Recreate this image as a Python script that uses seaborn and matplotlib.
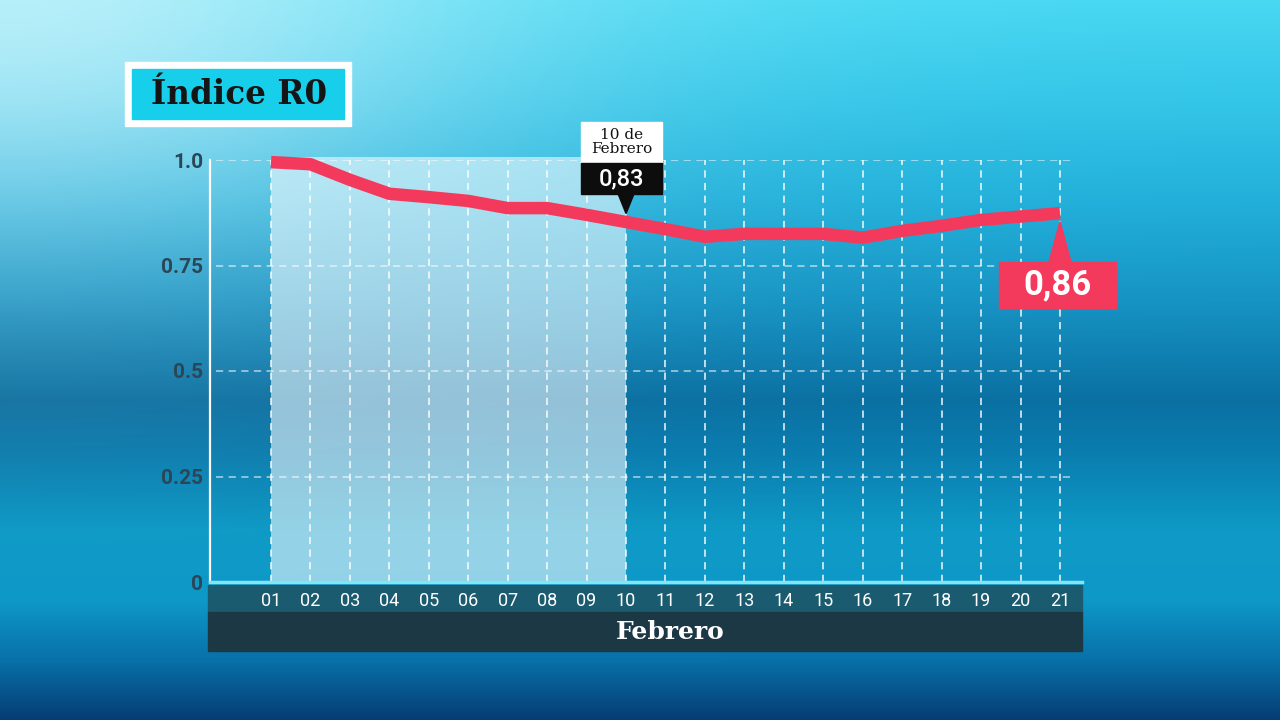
import numpy as np
import pandas as pd
import matplotlib
matplotlib.use("Agg")
import matplotlib.pyplot as plt
from matplotlib.patches import Rectangle, Polygon
import seaborn as sns

# Data (Índice R0, February days)
days = list(range(1, 22))
day_labels = [f"{d:02d}" for d in days]
r0_values = [0.995, 0.990, 0.953, 0.920, 0.912, 0.903, 0.886, 0.886, 0.870, 0.853,
             0.836, 0.818, 0.825, 0.825, 0.825, 0.816, 0.832, 0.844, 0.858, 0.866, 0.874]
y_ticks = [0, 0.25, 0.5, 0.75, 1.0]
y_tick_labels = ["0", "0.25", "0.5", "0.75", "1.0"]
highlight_day = 10
highlight_label = "0,83"
last_label = "0,86"
month = "Febrero"
title = "Índice R0"

LINE_RED = "#f43a5c"

sns.set_theme(style="white")
plt.rcParams["font.family"] = ["Roboto", "DejaVu Sans"]

fig = plt.figure(figsize=(12.8, 7.2), dpi=100)

# background gradient
H, W = 720, 1280
yy = np.arange(H)
stops_y = [0, 100, 200, 300, 400, 450, 530, 600, 660, 720]
stops_c = np.array([
    [0x48, 0xd8, 0xf2], [0x34, 0xc6, 0xe8], [0x22, 0xb0, 0xda], [0x16, 0x94, 0xc4],
    [0x0a, 0x70, 0xa2], [0x0a, 0x7c, 0xae], [0x0e, 0x9a, 0xc6], [0x0e, 0x98, 0xc8],
    [0x08, 0x70, 0xa8], [0x06, 0x3c, 0x74]]) / 255.0
col = np.stack([np.interp(yy, stops_y, stops_c[:, i]) for i in range(3)], axis=1)
img = np.repeat(col[:, None, :], W, axis=1)
xx = np.arange(W)[None, :]
glow = np.exp(-((xx / 520.0) ** 2 + (yy[:, None] / 260.0) ** 2)) * 0.6
img = img * (1 - glow[..., None]) + glow[..., None]
# slight slate tone on the left middle
shade = np.exp(-(((yy[:, None] - 370) / 110.0) ** 2)) * np.clip(1 - xx / 700.0, 0, 1) * 0.08
img = img * (1 - shade[..., None]) + np.array([0.2, 0.38, 0.5]) * shade[..., None]
bg = fig.add_axes([0, 0, 1, 1], zorder=-10)
bg.imshow(img, aspect="auto", extent=[0, 1, 0, 1])
bg.set_axis_off()

# bottom bands
fig.patches.append(Rectangle((208 / W, 108 / H), 874 / W, 27 / H, transform=fig.transFigure,
                             color="#1b5b70", zorder=1))
fig.patches.append(Rectangle((208 / W, 69 / H), 874 / W, 39 / H, transform=fig.transFigure,
                             color="#1c3845", zorder=1))
fig.text(670 / W, 1 - 632 / H, month, ha="center", va="center", color="white",
         fontsize=18, fontweight="bold", family="DejaVu Serif", zorder=3)

# title box
fig.patches.append(Rectangle((125 / W, 1 - 126 / H), 226 / W, 64 / H, transform=fig.transFigure,
                             color="white", zorder=1))
fig.patches.append(Rectangle((132 / W, 1 - 119 / H), 212 / W, 50 / H, transform=fig.transFigure,
                             color="#17cfea", zorder=2))
fig.text(239 / W, 1 - 95 / H, title, ha="center", va="center", color="#151515",
         fontsize=23.5, fontweight="bold", family="DejaVu Serif", zorder=3)

# main axes
ax = fig.add_axes([210 / W, 138 / H, 872 / W, 422 / H], zorder=2)
ax.set_facecolor("none")
ax.set_xlim(-0.546, 21.558)
ax.set_ylim(0, 1.0)

ax.axvspan(1, highlight_day, ymin=0, ymax=1.007, color="#f4fcff", alpha=0.58, lw=0, zorder=0,
           clip_on=False)
for d in days:
    ax.plot([d, d], [0, 1.0], color="white", lw=1.3, ls=(0, (4, 3)), alpha=0.8, zorder=1)
for t in y_ticks[1:]:
    ax.plot([-0.4, 21.3], [t, t], color="white", lw=1.3, ls=(0, (4, 3)), alpha=0.55, zorder=1)

df = pd.DataFrame({"day": days, "r0": r0_values})
sns.lineplot(data=df, x="day", y="r0", ax=ax, color=LINE_RED, lw=9,
             solid_capstyle="butt", solid_joinstyle="round", zorder=5, clip_on=False)

for s in ["top", "right"]:
    ax.spines[s].set_visible(False)
ax.spines["left"].set_color("white")
ax.spines["left"].set_linewidth(1.6)
ax.spines["bottom"].set_color("#7fe6f5")
ax.spines["bottom"].set_linewidth(2.5)

ax.set_xticks(days)
ax.set_xticklabels(day_labels, color="white", fontsize=13)
ax.set_yticks(y_ticks)
ax.set_yticklabels(y_tick_labels, color="#2b4656", fontsize=15, fontweight="bold")
ax.tick_params(axis="x", length=0, pad=7)
ax.tick_params(axis="y", length=0, pad=5)
ax.set_xlabel("")
ax.set_ylabel("")

# annotation at day 10
v10 = r0_values[highlight_day - 1]
tip10 = v10 + 0.02
ax.add_patch(Rectangle((8.858, 0.9929), 2.053, 0.097, color="white", zorder=6, clip_on=False))
ax.add_patch(Rectangle((8.858, 0.9194), 2.053, 0.0735, color="#0d0d0d", zorder=6, clip_on=False))
ax.add_patch(Polygon([[highlight_day - 0.2, 0.9194], [highlight_day + 0.2, 0.9194],
                      [highlight_day, tip10]], color="#0d0d0d", zorder=6, clip_on=False))
ax.text(9.885, 1.0415, "10 de\nFebrero", ha="center", va="center", fontsize=11,
        family="DejaVu Serif", color="#111111", linespacing=1.0, zorder=7)
ax.text(9.885, 0.955, highlight_label, ha="center", va="center", fontsize=17,
        color="white", fontweight="medium", zorder=7)

# annotation at the last day
v21 = r0_values[-1]
ax.add_patch(Rectangle((19.45, 0.649), 2.97, 0.109, color=LINE_RED, zorder=6, clip_on=False))
ax.add_patch(Polygon([[20.72, 0.758], [21.28, 0.758], [21, v21 - 0.02]], color=LINE_RED,
                     zorder=6, clip_on=False))
ax.text(20.935, 0.703, last_label, ha="center", va="center", fontsize=25,
        color="white", fontweight="bold", zorder=7)

fig.savefig("out.png", dpi=100)
